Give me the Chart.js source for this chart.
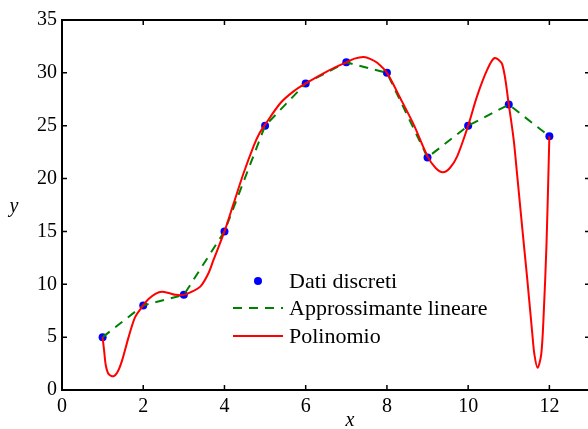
<!DOCTYPE html>
<html>
<head>
<meta charset="utf-8">
<script src="https://cdn.jsdelivr.net/npm/chart.js@4"></script>
<style>
  html, body { margin: 0; padding: 0; background: #fff; overflow: hidden; }
  #wrap { width: 594px; height: 429px; }
</style>
</head>
<body>
<div id="wrap"><canvas id="chart"></canvas></div>
<script>
// discrete data
const xData = [1, 2, 3, 4, 5, 6, 7, 8, 9, 10, 11, 12];
const yData = [5, 8, 9, 15, 25, 29, 31, 30, 22, 25, 27, 24];

// polynomial curve
const polyX = [1, 1.04, 1.08, 1.15, 1.27, 1.38, 1.48, 1.64, 1.8, 2, 2.13, 2.3, 2.46, 2.65, 2.8, 3,
  3.2, 3.41, 3.6, 3.73, 4, 4.23, 4.47, 4.72, 4.85, 5, 5.38, 5.7, 6, 6.53, 7, 7.2, 7.43, 7.6, 7.76,
  8, 8.33, 8.66, 9, 9.2, 9.38, 9.55, 9.73, 10, 10.22, 10.47, 10.65, 10.84, 11, 11.12, 11.21,
  11.33, 11.45, 11.58, 11.63, 11.71, 11.8, 11.86, 11.93, 11.985, 12];
const polyY = [5, 3.6, 2.3, 1.5, 1.3, 1.8, 2.8, 5.0, 6.9, 8, 8.6, 9.1, 9.3, 9.15, 9.0, 9,
  9.3, 9.8, 11.0, 12.3, 15, 17.7, 20.5, 23.1, 24.2, 25.1, 27.15, 28.25, 29, 30.15, 31, 31.35, 31.5, 31.3, 30.95,
  30, 27.6, 25.1, 22.1, 21, 20.6, 21, 22.1, 25, 27.8, 30.3, 31.4, 30.8, 27, 23.7, 20.2,
  15.4, 10.7, 5.3, 3.4, 2.1, 3.4, 7.2, 13.9, 21.8, 24];

const xTicks = [0, 2, 4, 6, 8, 10, 12];
const yTicks = [0, 5, 10, 15, 20, 25, 30, 35];

const serif = '"Liberation Serif", "DejaVu Serif", serif';

function pts(xs, ys) {
  return xs.map((x, i) => ({ x: x, y: ys[i] }));
}

// frame, inward ticks, axis titles and the legend
const framePlugin = {
  id: 'frame',
  afterDraw(chart) {
    const ctx = chart.ctx;
    const a = chart.chartArea;
    const xs = chart.scales.x, ys = chart.scales.y;
    ctx.save();
    ctx.strokeStyle = '#000';
    ctx.lineWidth = 2;
    ctx.strokeRect(a.left, a.top, a.right - a.left, a.bottom - a.top);
    ctx.lineWidth = 1.5;
    ctx.beginPath();
    xTicks.forEach(t => {
      const p = xs.getPixelForValue(t);
      ctx.moveTo(p, a.bottom); ctx.lineTo(p, a.bottom - 5);
      ctx.moveTo(p, a.top); ctx.lineTo(p, a.top + 5);
    });
    yTicks.forEach(t => {
      const p = ys.getPixelForValue(t);
      ctx.moveTo(a.left, p); ctx.lineTo(a.left + 5, p);
      ctx.moveTo(a.right, p); ctx.lineTo(a.right - 5, p);
    });
    ctx.stroke();

    ctx.fillStyle = '#000';
    ctx.font = 'italic 20px ' + serif;
    ctx.textAlign = 'center';
    ctx.textBaseline = 'middle';
    ctx.fillText('x', 350, 421);
    ctx.fillText('y', 14, 207);

    // legend
    const ds = chart.data.datasets;
    const rows = [281, 308, 336];
    ctx.font = '22px ' + serif;
    ctx.textAlign = 'left';
    ds.forEach((d, i) => {
      const y = rows[i];
      if (d.showLine === false) {
        ctx.fillStyle = d.backgroundColor;
        ctx.beginPath();
        ctx.arc(258, y, 4, 0, Math.PI * 2);
        ctx.fill();
      } else {
        ctx.strokeStyle = d.borderColor;
        ctx.lineWidth = 2;
        ctx.setLineDash(d.borderDash || []);
        ctx.beginPath();
        ctx.moveTo(233, y); ctx.lineTo(283, y);
        ctx.stroke();
        ctx.setLineDash([]);
      }
      ctx.fillStyle = '#000';
      ctx.fillText(d.label, 289, y + 1);
    });
    ctx.restore();
  }
};

new Chart(document.getElementById('chart'), {
  type: 'scatter',
  data: {
    datasets: [
      {
        label: 'Dati discreti',
        data: pts(xData, yData),
        showLine: false,
        pointRadius: 4,
        pointBackgroundColor: '#0000ff',
        backgroundColor: '#0000ff',
        pointBorderWidth: 0,
        order: 2,
      },
      {
        label: 'Approssimante lineare',
        data: pts(xData, yData),
        showLine: true,
        borderColor: '#008000',
        borderWidth: 2,
        borderDash: [9, 7],
        pointRadius: 0,
        tension: 0,
        order: 1,
      },
      {
        label: 'Polinomio',
        data: pts(polyX, polyY),
        showLine: true,
        borderColor: '#ff0000',
        borderWidth: 2,
        pointRadius: 0,
        tension: 0.3,
        order: 0,
      },
    ],
  },
  options: {
    responsive: true,
    maintainAspectRatio: false,
    animation: false,
    layout: { padding: { top: 20, right: 0, left: 0, bottom: 0 } },
    plugins: {
      legend: { display: false },
      tooltip: { enabled: false },
    },
    scales: {
      x: {
        type: 'linear',
        min: 0,
        max: 13,
        afterFit(s) { s.height = 39; },
        afterBuildTicks(s) { s.ticks = xTicks.map(v => ({ value: v })); },
        grid: { display: false, drawTicks: false },
        border: { display: false },
        ticks: { color: '#000', padding: 5, font: { family: serif, size: 20 } },
      },
      y: {
        min: 0,
        max: 35,
        afterFit(s) { s.width = 62; },
        afterBuildTicks(s) { s.ticks = yTicks.map(v => ({ value: v })); },
        grid: { display: false, drawTicks: false },
        border: { display: false },
        ticks: { color: '#000', padding: 5, font: { family: serif, size: 20 } },
      },
    },
  },
  plugins: [framePlugin],
});
</script>
</body>
</html>
